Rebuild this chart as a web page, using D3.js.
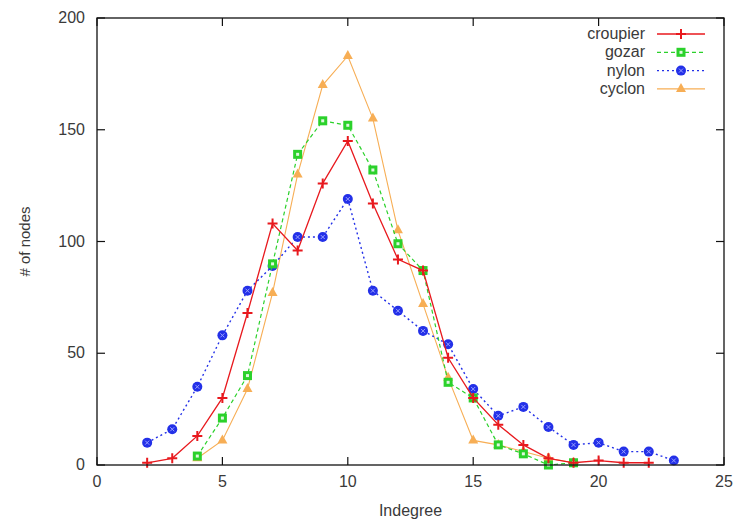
<!DOCTYPE html>
<html>
<head>
<meta charset="utf-8">
<script src="https://cdn.jsdelivr.net/npm/d3@7"></script>
<style>
  body { margin: 0; background: #fff; }
  text { font-family: "Liberation Sans", Arial, sans-serif; fill: #3a3a3a; }
</style>
</head>
<body>
<div id="chart"></div>
<script>
  var xTicks = [0, 5, 10, 15, 20, 25];
  var yTicks = [0, 50, 100, 150, 200];

  var croupierX = [2, 3, 4, 5, 6, 7, 8, 9, 10, 11, 12, 13, 14, 15, 16, 17, 18, 19, 20, 21, 22];
  var croupierY = [1, 3, 13, 30, 68, 108, 96, 126, 145, 117, 92, 87, 48, 30, 18, 9, 3, 1, 2, 1, 1];

  var gozarX = [4, 5, 6, 7, 8, 9, 10, 11, 12, 13, 14, 15, 16, 17, 18, 19];
  var gozarY = [4, 21, 40, 90, 139, 154, 152, 132, 99, 87, 37, 30, 9, 5, 0, 1];

  var nylonX = [2, 3, 4, 5, 6, 7, 8, 9, 10, 11, 12, 13, 14, 15, 16, 17, 18, 19, 20, 21, 22, 23];
  var nylonY = [10, 16, 35, 58, 78, 89, 102, 102, 119, 78, 69, 60, 54, 34, 22, 26, 17, 9, 10, 6, 6, 2];

  var cyclonX = [4, 5, 6, 7, 8, 9, 10, 11, 12, 13, 14, 15, 16, 17, 18, 19];
  var cyclonY = [3, 11, 34, 77, 130, 170, 183, 155, 105, 72, 39, 11, 9, 6, 3, 1];

  var seriesNames = ['croupier', 'gozar', 'nylon', 'cyclon'];
  var seriesColors = ['#e8191e', '#2bd12b', '#2330e8', '#f7ae55'];
  var seriesDash = [null, '4,3', '2,3', null];
  var seriesWidth = [1.3, 1.2, 1.4, 1.1];

(function(){
  var width = 740, height = 523;
  var mLeft = 97, mRight = 724, mTop = 18, mBottom = 465;

  var svg = d3.select('#chart')
    .append('svg')
    .attr('width', width)
    .attr('height', height);

  var x = d3.scaleLinear().domain([0, 25]).range([mLeft, mRight]);
  var y = d3.scaleLinear().domain([0, 200]).range([mBottom, mTop]);

  function pairs(xs, ys) {
    return xs.map(function (v, i) { return { x: v, y: ys[i] }; });
  }
  var data = [pairs(croupierX, croupierY), pairs(gozarX, gozarY), pairs(nylonX, nylonY), pairs(cyclonX, cyclonY)];

  // ticks drawn inward on all four sides
  var axes = svg.append('g').attr('stroke', '#111').attr('stroke-width', 1.2);
  xTicks.forEach(function (t) {
    axes.append('line').attr('x1', x(t)).attr('x2', x(t)).attr('y1', mBottom).attr('y2', mBottom - 8);
    axes.append('line').attr('x1', x(t)).attr('x2', x(t)).attr('y1', mTop).attr('y2', mTop + 8);
  });
  yTicks.forEach(function (t) {
    axes.append('line').attr('x1', mLeft).attr('x2', mLeft + 8).attr('y1', y(t)).attr('y2', y(t));
    axes.append('line').attr('x1', mRight).attr('x2', mRight - 8).attr('y1', y(t)).attr('y2', y(t));
  });

  svg.selectAll('.xl').data(xTicks).enter().append('text')
    .attr('x', function (d) { return x(d); })
    .attr('y', mBottom + 22)
    .attr('text-anchor', 'middle')
    .style('font-size', '16px')
    .text(function (d) { return d; });

  svg.selectAll('.yl').data(yTicks).enter().append('text')
    .attr('x', mLeft - 12)
    .attr('y', function (d) { return y(d) + 5; })
    .attr('text-anchor', 'end')
    .style('font-size', '16px')
    .text(function (d) { return d; });

  svg.append('text')
    .attr('x', (mLeft + mRight) / 2)
    .attr('y', 516)
    .attr('text-anchor', 'middle')
    .style('font-size', '16px')
    .text('Indegree');

  svg.append('text')
    .attr('transform', 'translate(30,' + ((mTop + mBottom) / 2) + ') rotate(-90)')
    .attr('text-anchor', 'middle')
    .style('font-size', '15px')
    .text('# of nodes');

  var line = d3.line()
    .x(function (d) { return x(d.x); })
    .y(function (d) { return y(d.y); });

  function marker(g, i, cx, cy) {
    var c = seriesColors[i];
    if (i === 0) {
      g.append('path').attr('d', 'M' + (cx - 5) + ',' + cy + 'h10M' + cx + ',' + (cy - 5) + 'v10')
        .attr('stroke', c).attr('stroke-width', 2);
    } else if (i === 1) {
      g.append('rect').attr('x', cx - 4.5).attr('y', cy - 4.5).attr('width', 9).attr('height', 9)
        .attr('fill', c);
      g.append('rect').attr('x', cx - 1.5).attr('y', cy - 1.5).attr('width', 3).attr('height', 3)
        .attr('fill', '#dff7df');
    } else if (i === 2) {
      g.append('circle').attr('cx', cx).attr('cy', cy).attr('r', 5).attr('fill', c);
      g.append('path').attr('d', 'M' + (cx - 2) + ',' + (cy - 2) + 'l4,4M' + (cx + 2) + ',' + (cy - 2) + 'l-4,4')
        .attr('stroke', '#9aa0ff').attr('stroke-width', 1);
    } else {
      g.append('path').attr('d', 'M' + cx + ',' + (cy - 6) + 'L' + (cx + 5) + ',' + (cy + 3) + 'L' + (cx - 5) + ',' + (cy + 3) + 'Z')
        .attr('fill', c);
    }
  }

  var order = [3, 2, 1, 0];
  order.forEach(function (i) {
    var g = svg.append('g');
    g.append('path')
      .datum(data[i])
      .attr('d', line)
      .attr('fill', 'none')
      .attr('stroke', seriesColors[i])
      .attr('stroke-width', seriesWidth[i])
      .attr('stroke-dasharray', seriesDash[i]);
    data[i].forEach(function (d) {
      marker(g, i, x(d.x), y(d.y));
    });
  });

  // frame
  svg.append('rect')
    .attr('x', mLeft).attr('y', mTop)
    .attr('width', mRight - mLeft).attr('height', mBottom - mTop)
    .attr('fill', 'none').attr('stroke', '#111').attr('stroke-width', 1.3);

  // legend
  var legend = svg.append('g');
  seriesNames.forEach(function (name, i) {
    var ly = 34 + i * 18.3;
    legend.append('text')
      .attr('x', 645).attr('y', ly + 5)
      .attr('text-anchor', 'end')
      .style('font-size', '16px')
      .text(name);
    legend.append('line')
      .attr('x1', 657).attr('x2', 705).attr('y1', ly).attr('y2', ly)
      .attr('stroke', seriesColors[i])
      .attr('stroke-width', seriesWidth[i])
      .attr('stroke-dasharray', seriesDash[i]);
    marker(legend, i, 681, ly);
  });
})()
</script>
</body>
</html>
